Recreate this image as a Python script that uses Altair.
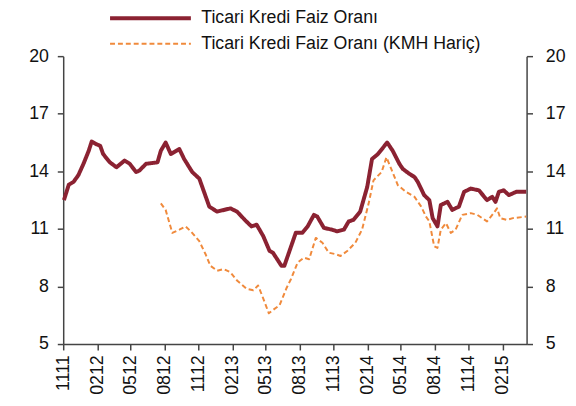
import altair as alt
import pandas as pd

series_names = ["Ticari Kredi Faiz Oranı", "Ticari Kredi Faiz Oranı (KMH Hariç)"]

main_dates = [
    "2011-11-03", "2011-11-16", "2011-11-29", "2011-12-12", "2011-12-26",
    "2012-01-09", "2012-01-17", "2012-01-31", "2012-02-09", "2012-02-17",
    "2012-03-06", "2012-03-24", "2012-04-15", "2012-04-29", "2012-05-16",
    "2012-05-25", "2012-06-12", "2012-07-13", "2012-07-22", "2012-08-04",
    "2012-08-18", "2012-09-10", "2012-09-23", "2012-10-15", "2012-11-03",
    "2012-11-30", "2012-12-21", "2013-01-26", "2013-02-13", "2013-03-06",
    "2013-03-24", "2013-04-07", "2013-04-25", "2013-05-12", "2013-05-21",
    "2013-06-13", "2013-06-21", "2013-07-22", "2013-08-09", "2013-08-23",
    "2013-09-09", "2013-09-18", "2013-10-06", "2013-10-28", "2013-11-11",
    "2013-11-29", "2013-12-12", "2013-12-25", "2014-01-12", "2014-01-31",
    "2014-02-13", "2014-03-01", "2014-03-26", "2014-04-10", "2014-04-28",
    "2014-05-07", "2014-05-25", "2014-06-08", "2014-06-17", "2014-07-04",
    "2014-07-18", "2014-07-27", "2014-08-09", "2014-08-18", "2014-09-05",
    "2014-09-18", "2014-10-06", "2014-10-20", "2014-11-07", "2014-11-29",
    "2014-12-21", "2015-01-04", "2015-01-13", "2015-01-22", "2015-02-04",
    "2015-02-18", "2015-03-10", "2015-04-06",
]
main_values = [
    12.5, 13.3, 13.45, 13.8, 14.4,
    15.07, 15.55, 15.4, 15.33, 14.9,
    14.47, 14.21, 14.56, 14.39, 13.96,
    14.04, 14.39, 14.47, 15.07, 15.5,
    14.9, 15.16, 14.64, 13.96, 13.62,
    12.16, 11.9, 12.07, 11.9, 11.47,
    11.13, 11.22, 10.62, 9.85, 9.76,
    9.08, 9.08, 10.8, 10.8, 11.13,
    11.73, 11.64, 11.05, 10.96, 10.87,
    10.96, 11.39, 11.47, 11.9, 13.18,
    14.64, 14.9, 15.5, 15.07, 14.39,
    14.13, 13.87, 13.7, 13.44, 12.76,
    12.5, 11.56, 11.13, 12.24, 12.41,
    11.99, 12.16, 12.93, 13.1, 13.01,
    12.5, 12.67, 12.41, 12.93, 13.01,
    12.76, 12.93, 12.93,
]

exkmh_dates = [
    "2012-07-22", "2012-08-04", "2012-08-22", "2012-09-10", "2012-09-27",
    "2012-10-11", "2012-11-03", "2012-11-20", "2012-12-03", "2012-12-21",
    "2013-01-08", "2013-01-26", "2013-02-13", "2013-03-11", "2013-03-29",
    "2013-04-11", "2013-04-25", "2013-05-10", "2013-05-21", "2013-06-08",
    "2013-06-26", "2013-07-09", "2013-07-27", "2013-08-13", "2013-08-27",
    "2013-09-14", "2013-10-02", "2013-10-19", "2013-11-07", "2013-11-20",
    "2013-12-08", "2013-12-30", "2014-01-17", "2014-02-04", "2014-02-17",
    "2014-03-11", "2014-03-24", "2014-04-06", "2014-04-24", "2014-05-16",
    "2014-06-08", "2014-06-26", "2014-07-09", "2014-07-18", "2014-07-31",
    "2014-08-09", "2014-08-18", "2014-09-01", "2014-09-14", "2014-09-27",
    "2014-10-15", "2014-11-07", "2014-11-25", "2014-12-21", "2015-01-08",
    "2015-01-17", "2015-01-26", "2015-02-13", "2015-03-01", "2015-04-06",
]
exkmh_values = [
    12.33, 11.99, 10.79, 10.96, 11.13,
    10.87, 10.36, 9.68, 9.08, 8.82,
    8.91, 8.74, 8.31, 7.88, 7.8,
    8.05, 7.37, 6.6, 6.77, 7.02,
    7.88, 8.39, 9.25, 9.5, 9.42,
    10.53, 10.28, 9.76, 9.68, 9.59,
    9.85, 10.28, 10.96, 12.33, 13.53,
    13.96, 14.73, 14.13, 13.27, 12.93,
    12.67, 12.16, 11.64, 11.39, 10.1,
    10.01, 10.96, 11.3, 10.79, 10.96,
    11.73, 11.82, 11.73, 11.39, 11.82,
    12.07, 11.56, 11.47, 11.56, 11.64,
]

y_ticks = [5, 8, 11, 14, 17, 20]
tick_months = [
    (2011, 11), (2012, 2), (2012, 5), (2012, 8), (2012, 11),
    (2013, 2), (2013, 5), (2013, 8), (2013, 11), (2014, 2),
    (2014, 5), (2014, 8), (2014, 11), (2015, 2),
]

df = pd.concat([
    pd.DataFrame({"date": main_dates, "value": main_values, "series": series_names[0]}),
    pd.DataFrame({"date": exkmh_dates, "value": exkmh_values, "series": series_names[1]}),
], ignore_index=True)

FONT = "Liberation Sans"
legend = alt.Legend(
    title=None, orient="none", legendX=76, legendY=-51,
    symbolType="M-4,0H4", symbolSize=420, labelFontSize=18, labelFont=FONT,
    labelColor="#111111", labelOffset=39, rowPadding=5, padding=0, labelLimit=600,
)

x = alt.X(
    "date:T",
    scale=alt.Scale(
        type="utc",
        domain=[alt.DateTime(year=2011, month=11, date=1, utc=True),
                alt.DateTime(year=2015, month=4, date=7, utc=True)],
    ),
    axis=alt.Axis(
        values=[alt.DateTime(year=yy, month=mm, date=1, utc=True) for yy, mm in tick_months],
        labelExpr="utcFormat(datum.value, '%m%y')", labelAngle=270, title=None, grid=False,
        labelPadding=5,
    ),
)

y_scale = alt.Scale(domain=[5, 20], nice=False, zero=False)

lines = alt.Chart(df).mark_line(strokeJoin="round", strokeCap="butt").encode(
    x=x,
    y=alt.Y("value:Q", scale=y_scale,
            axis=alt.Axis(values=y_ticks, orient="left", title=None, grid=False, labelPadding=9)),
    color=alt.Color("series:N", scale=alt.Scale(domain=series_names, range=["#8B2232", "#F08A3C"]), legend=legend),
    strokeDash=alt.StrokeDash("series:N", scale=alt.Scale(domain=series_names, range=[[1, 0], [5, 3]]), legend=legend),
    strokeWidth=alt.StrokeWidth("series:N", scale=alt.Scale(domain=series_names, range=[4, 2]), legend=legend),
)

right = alt.Chart(df).mark_line(opacity=0).encode(
    x=x,
    y=alt.Y("value:Q", scale=y_scale,
            axis=alt.Axis(values=y_ticks, orient="right", title=None, grid=False, labelPadding=13)),
    detail="series:N",
)

chart = alt.layer(lines, right).resolve_scale(y="independent").properties(
    width=470, height=292,
    autosize=alt.AutoSizeParams(type="none"),
    padding={"left": 56, "top": 46, "right": 42, "bottom": 60},
).configure_view(stroke=None).configure_axis(
    labelFont=FONT, labelFontSize=18, labelColor="#111111",
    domainColor="#444444", tickColor="#444444", domainWidth=1.5, tickWidth=1.5, tickSize=6,
)

chart.save("out.html", embed_options={"renderer": "svg", "actions": False})
